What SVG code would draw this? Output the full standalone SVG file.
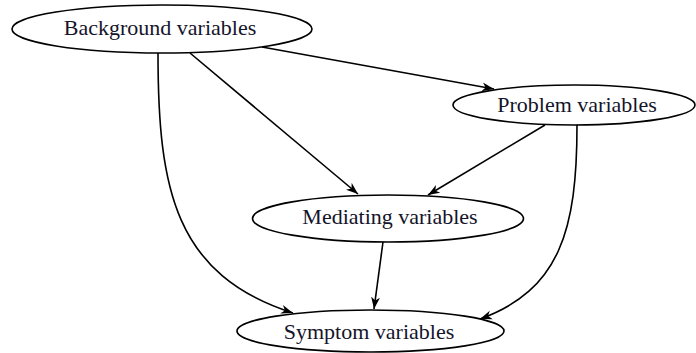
<svg xmlns="http://www.w3.org/2000/svg" width="696" height="353" viewBox="0 0 696 353">
  <style>
    .node ellipse { fill: #ffffff; stroke: #000000; stroke-width: 1.6; }
    .node text { font-family: "Liberation Serif", "Times New Roman", serif; font-size: 22px; fill: #14142a; text-anchor: middle; }
    .edge { fill: none; stroke: #000000; stroke-width: 1.6; marker-end: url(#arrow); }
  </style>
  <defs>
    <marker id="arrow" viewBox="0 0 12 10" refX="12" refY="5" markerWidth="12" markerHeight="10" markerUnits="userSpaceOnUse" orient="auto">
      <path d="M12,5 L0,0.5 L3.5,5 L0,9.5 Z" fill="#000000"/>
    </marker>
  </defs>
  <rect width="696" height="353" fill="#ffffff"/>

  <g id="connectors">
    <path class="edge" d="M262,47 L494,89"/>
    <path class="edge" d="M190,53 L358,194"/>
    <path class="edge" d="M158,53 C158,190 175,275 293,313"/>
    <path class="edge" d="M545,125 L428,195"/>
    <path class="edge" d="M577,125 C577,230 560,290 480,319"/>
    <path class="edge" d="M383,242 L374,309"/>
  </g>

  <g id="background" class="node">
    <ellipse cx="162" cy="29" rx="150" ry="24"/>
    <text x="160" y="35">Background variables</text>
  </g>
  <g id="problem" class="node">
    <ellipse cx="574" cy="105" rx="121" ry="20"/>
    <text x="577" y="112">Problem variables</text>
  </g>
  <g id="mediating" class="node">
    <ellipse cx="388" cy="218.5" rx="135.5" ry="23.5"/>
    <text x="390" y="224">Mediating variables</text>
  </g>
  <g id="symptom" class="node">
    <ellipse cx="370.5" cy="331" rx="133.5" ry="21"/>
    <text x="369" y="339">Symptom variables</text>
  </g>
</svg>
